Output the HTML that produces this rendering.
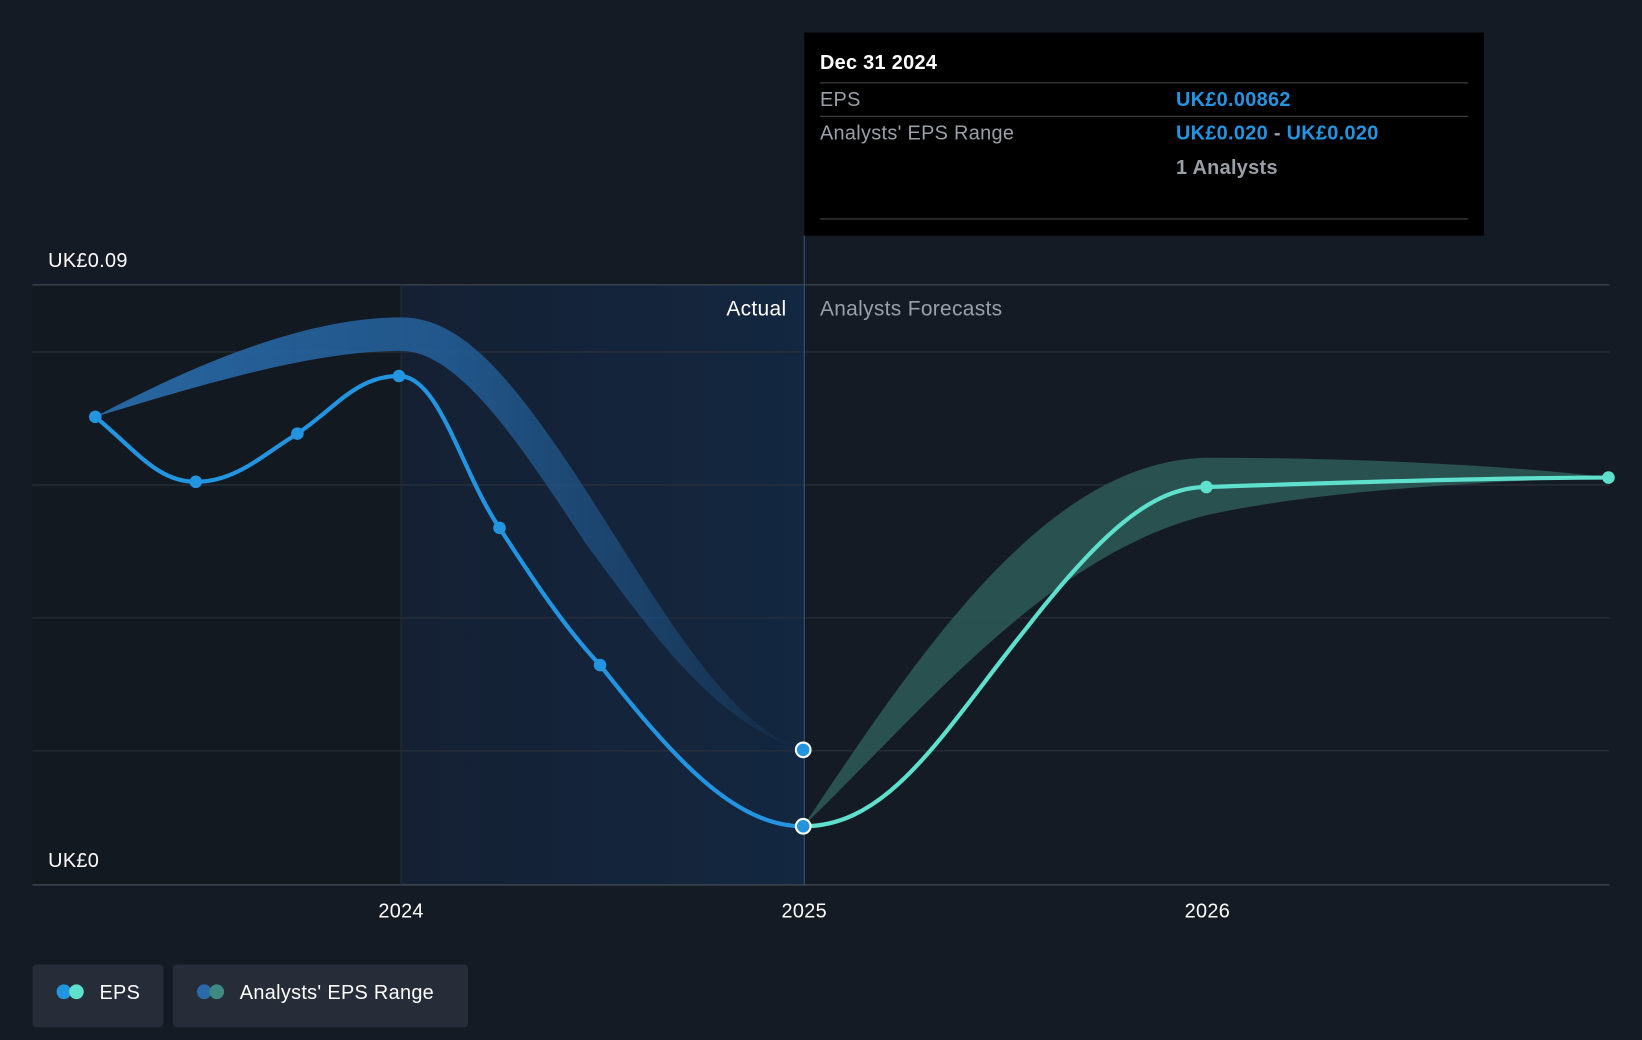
<!DOCTYPE html>
<html><head><meta charset="utf-8"><style>
html,body{margin:0;padding:0;background:#151b24;}
svg{display:block;font-family:"Liberation Sans",Roboto,sans-serif;}
text{letter-spacing:0.3px;}
</style></head><body>
<svg width="1642" height="1040" viewBox="0 0 1568 993" xmlns="http://www.w3.org/2000/svg">
<defs>
<linearGradient id="act" x1="0" x2="1" y1="0" y2="0">
<stop offset="0" stop-color="#152033"/><stop offset="1" stop-color="#132740"/>
</linearGradient>
<linearGradient id="band1" x1="91" x2="767" gradientUnits="userSpaceOnUse"><stop offset="0" stop-color="#2a6aa8" stop-opacity="0.95"/><stop offset="0.5" stop-color="#23609a" stop-opacity="0.85"/><stop offset="0.8" stop-color="#1f5282" stop-opacity="0.6"/><stop offset="1" stop-color="#1f5282" stop-opacity="0.05"/></linearGradient>
</defs>
<rect width="1568" height="993" fill="#151b24"/>
<rect x="31" y="272" width="352" height="573" fill="#131920"/>
<rect x="383" y="272" width="385" height="573" fill="url(#act)"/>
<g stroke="#2c333d" stroke-width="1">
<line x1="31" y1="272" x2="1537" y2="272" stroke="#4a525c"/>
<line x1="31" y1="336" x2="1537" y2="336"/>
<line x1="31" y1="463" x2="1537" y2="463"/>
<line x1="31" y1="590" x2="1537" y2="590"/>
<line x1="31" y1="717" x2="1537" y2="717"/>
<line x1="31" y1="845" x2="1537" y2="845" stroke="#4a525c"/>
<line x1="383" y1="272" x2="383" y2="845" stroke="#252d38"/>
</g>
<line x1="768" y1="225" x2="768" y2="845" stroke="#2f5a85" stroke-width="1"/>
<path d="M91,398 C200,340 300,303 383,303 C430,303 470,340 520,410 C600,520 680,690 767,716 C680,690 620,600 560,520 C500,430 440,335 383,335 C300,335 200,365 91,398 Z" fill="url(#band1)"/>
<path d="M767,789 C880,620 1000,440 1152,437 C1300,437 1450,445 1536,456 C1400,460 1250,470 1152,492 C1000,530 880,680 767,789 Z" fill="#2d5a58" opacity="0.85"/>
<path d="M91,398 C130,430 150,460 187,460 C225,460 250,435 284,414 C320,390 340,359 381,359 C420,359 440,450 477,504 C510,555 540,600 573,635 C640,720 700,789 767,789" fill="none" stroke="#2394e0" stroke-width="4"/>
<path d="M767,789 C850,789 900,700 980,600 C1050,510 1100,465 1152,465 C1300,460 1450,456 1536,456" fill="none" stroke="#5ee0cc" stroke-width="4"/>
<g fill="#2394e0"><circle cx="91" cy="398" r="6"/><circle cx="187" cy="460" r="6"/><circle cx="284" cy="414" r="6"/><circle cx="381" cy="359" r="6"/><circle cx="477" cy="504" r="6"/><circle cx="573" cy="635" r="6"/></g>
<circle cx="767" cy="716" r="7" fill="#2394e0" stroke="#fff" stroke-width="2"/>
<circle cx="767" cy="789" r="7" fill="#2394e0" stroke="#fff" stroke-width="2"/>
<circle cx="1152" cy="465" r="6" fill="#5ee0cc"/>
<circle cx="1536" cy="456" r="6" fill="#5ee0cc"/>
<text x="46" y="255" fill="#fff" font-size="19">UK£0.09</text>
<text x="46" y="828" fill="#fff" font-size="19">UK£0</text>
<text x="751" y="301" fill="#fff" font-size="20" text-anchor="end">Actual</text>
<text x="783" y="301" fill="#9aa0a8" font-size="20">Analysts Forecasts</text>
<g fill="#fff" font-size="19" text-anchor="middle"><text x="383" y="876">2024</text><text x="768" y="876">2025</text><text x="1153" y="876">2026</text></g>
<rect x="768" y="31" width="649" height="194" fill="#000"/>
<text x="783" y="66" fill="#fff" font-size="19" font-weight="bold">Dec 31 2024</text>
<line x1="783" y1="79" x2="1402" y2="79" stroke="#444"/>
<text x="783" y="101" fill="#9aa0a8" font-size="19">EPS</text>
<text x="1123" y="101" fill="#2394e0" font-size="19" font-weight="bold">UK£0.00862</text>
<line x1="783" y1="111" x2="1402" y2="111" stroke="#444"/>
<text x="783" y="133" fill="#9aa0a8" font-size="19">Analysts' EPS Range</text>
<text x="1123" y="133" font-size="19" font-weight="bold"><tspan fill="#2394e0">UK£0.020</tspan><tspan fill="#9aa0a8"> - </tspan><tspan fill="#2394e0">UK£0.020</tspan></text>
<text x="1123" y="166" fill="#9aa0a8" font-size="19" font-weight="bold">1 Analysts</text>
<line x1="783" y1="209" x2="1402" y2="209" stroke="#444"/>
<rect x="31" y="921" width="125" height="60" rx="4" fill="#262d38"/>
<circle cx="61" cy="947" r="7" fill="#2394e0"/><circle cx="73" cy="947" r="7" fill="#5ee0cc"/>
<text x="95" y="954" fill="#fff" font-size="19">EPS</text>
<rect x="165" y="921" width="282" height="60" rx="4" fill="#262d38"/>
<circle cx="195" cy="947" r="7" fill="#2a6aa8"/><circle cx="207" cy="947" r="7" fill="#3f8a80"/>
<text x="229" y="954" fill="#fff" font-size="19">Analysts' EPS Range</text>
</svg>
</body></html>
